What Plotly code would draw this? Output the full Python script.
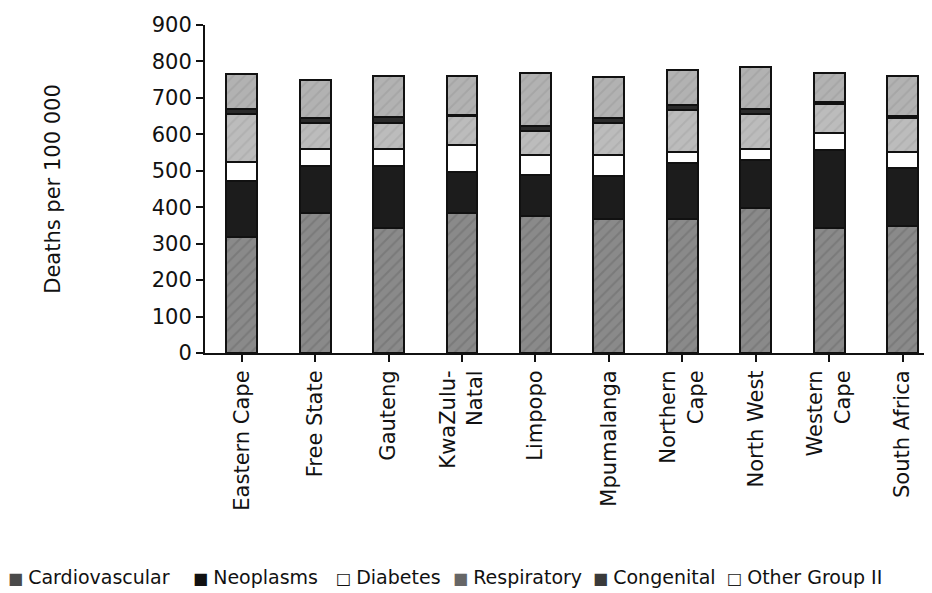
import plotly.graph_objects as go

provinces = ["Eastern Cape", "Free State", "Gauteng", "KwaZulu-<br>Natal", "Limpopo",
             "Mpumalanga", "Northern<br>Cape", "North West", "Western<br>Cape", "South Africa"]

cardiovascular = [318, 384, 343, 384, 377, 368, 368, 398, 343, 349]
neoplasms      = [153, 128, 169, 113, 112, 119, 153, 132, 213, 159]
diabetes       = [53, 49, 49, 73, 55, 57, 31, 31, 48, 43]
respiratory    = [132, 70, 70, 79, 64, 87, 114, 96, 79, 93]
congenital     = [14, 14, 16, 5, 14, 14, 14, 13, 6, 7]
other_group_ii = [96, 105, 112, 105, 146, 112, 97, 114, 79, 110]

y_ticks = [0, 100, 200, 300, 400, 500, 600, 700, 800, 900]

series = [
    ("Cardiovascular", cardiovascular, "#8a8a8a", "/", "#6a6a6a", "■", "#4a4a4a"),
    ("Neoplasms", neoplasms, "#1c1c1c", "", "#1c1c1c", "■", "#111111"),
    ("Diabetes", diabetes, "#ffffff", "", "#ffffff", "□", "#111111"),
    ("Respiratory", respiratory, "#bcbcbc", "/", "#a4a4a4", "■", "#666666"),
    ("Congenital", congenital, "#2a2a2a", "", "#2a2a2a", "■", "#3a3a3a"),
    ("Other Group II", other_group_ii, "#b2b2b2", "/", "#9a9a9a", "□", "#222222"),
]

# The page body has an 8px default margin, so layout is set 8px up/left.
OFF = 8
legend_px = [6 - OFF, 191 - OFF, 334 - OFF, 451 - OFF, 591 - OFF, 725 - OFF]
FIG_W, FIG_H = 932, 593
L, T, B_AX = 205 - OFF, 25 - OFF, 353 - OFF
R = OFF
W = FIG_W - L - R
H = B_AX - T
LEG_Y = 577 - OFF

FONT = "DejaVu Sans"

fig = go.Figure()
x_idx = list(range(len(provinces)))
annotations = []
for (name, vals, color, shape, fg, sym, symc), px in zip(series, legend_px):
    pattern = dict(shape=shape, fgcolor=fg, bgcolor=color, size=8, solidity=0.25) if shape else dict(shape="")
    fig.add_trace(go.Bar(
        name=name, x=x_idx, y=vals, showlegend=False,
        marker=dict(color=color, line=dict(color="#111111", width=2), pattern=pattern),
    ))
    annotations.append(dict(
        text=f"<span style='font-size:16px;color:{symc}'>{sym} </span>{name}",
        x=(px - L) / W, xref="paper", xanchor="left",
        y=(B_AX - LEG_Y) / H, yref="paper", yanchor="middle",
        showarrow=False, font=dict(family=FONT, size=19, color="#111111"),
    ))

fig.update_layout(
    barmode="stack",
    bargap=0.58,
    width=FIG_W, height=FIG_H,
    margin=dict(l=L, r=R, t=T, b=FIG_H - B_AX, autoexpand=False),
    paper_bgcolor="white", plot_bgcolor="white",
    font=dict(family=FONT, size=21, color="#111111"),
    showlegend=False,
    annotations=annotations,
)
fig.update_xaxes(
    range=[-0.5, 9.4], tickmode="array", tickvals=x_idx, ticktext=provinces,
    tickangle=-90, ticks="outside", ticklen=7, tickwidth=2, tickcolor="#111111",
    tickson="boundaries", showline=True, linecolor="#111111", linewidth=2,
    showgrid=False, zeroline=False, tickfont=dict(family=FONT, size=21),
    automargin=False,
)
fig.update_yaxes(
    range=[0, 900], tickmode="array", tickvals=y_ticks,
    ticks="outside", ticklen=7, tickwidth=2, tickcolor="#111111",
    showline=True, linecolor="#111111", linewidth=2, showgrid=False, zeroline=False,
    tickfont=dict(family=FONT, size=21), automargin=False,
    title=dict(text="Deaths per 100 000", font=dict(family=FONT, size=21), standoff=85),
)

fig.write_html("out.html")
